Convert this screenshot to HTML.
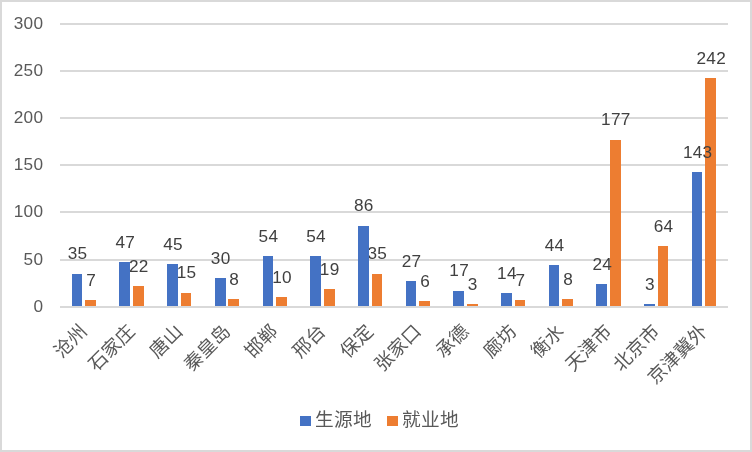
<!DOCTYPE html>
<html lang="zh"><head><meta charset="utf-8"><title>生源地 就业地</title>
<style>html,body{margin:0;padding:0;background:#fff}body{width:752px;height:452px;overflow:hidden;font-family:"Liberation Sans",sans-serif}#chart{position:relative;width:752px;height:452px;box-sizing:border-box;border:2px solid #d9d9d9;background:#fff}svg{position:absolute;left:-2px;top:-2px;display:block;will-change:transform}text{font-family:"Liberation Sans",sans-serif;font-size:17.2px;letter-spacing:.3px}.ax{fill:#595959}.dl{fill:#404040}.cj{fill:#595959}.lg{fill:#595959}.cj text{font-family:"Liberation Sans","Noto Sans CJK SC",sans-serif;font-size:18.67px;letter-spacing:0}.lg text{font-family:"Liberation Sans","Noto Sans CJK SC",sans-serif;font-size:18.67px;letter-spacing:.33px}</style></head><body><div id="chart">
<svg width="752" height="452" viewBox="0 0 752 452">
<g fill="#d9d9d9" shape-rendering="crispEdges">
<rect x="60" y="259" width="668" height="2"/>
<rect x="60" y="211" width="668" height="2"/>
<rect x="60" y="164" width="668" height="2"/>
<rect x="60" y="117" width="668" height="2"/>
<rect x="60" y="70" width="668" height="2"/>
<rect x="60" y="23" width="668" height="2"/>
</g>
<g class="ax" text-anchor="end">
<text x="43.3" y="311.7">0</text>
<text x="43.3" y="264.7">50</text>
<text x="43.3" y="216.7">100</text>
<text x="43.3" y="169.7">150</text>
<text x="43.3" y="122.7">200</text>
<text x="43.3" y="75.7">250</text>
<text x="43.3" y="28.7">300</text>
</g>
<g fill="#ed7d31" shape-rendering="crispEdges">
<rect x="85" y="300" width="11" height="6"/>
<rect x="133" y="286" width="11" height="20"/>
<rect x="181" y="293" width="10" height="13"/>
<rect x="228" y="299" width="11" height="7"/>
<rect x="276" y="297" width="11" height="9"/>
<rect x="324" y="289" width="11" height="17"/>
<rect x="372" y="274" width="10" height="32"/>
<rect x="419" y="301" width="11" height="5"/>
<rect x="467" y="304" width="11" height="2"/>
<rect x="515" y="300" width="10" height="6"/>
<rect x="562" y="299" width="11" height="7"/>
<rect x="610" y="140" width="11" height="166"/>
<rect x="658" y="246" width="10" height="60"/>
<rect x="705" y="78" width="11" height="228"/>
</g>
<g class="dl" text-anchor="middle">
<text x="91.19" y="286">7</text>
<text x="138.89" y="272">22</text>
<text x="186.59" y="278">15</text>
<text x="234.29" y="285">8</text>
<text x="281.99" y="283">10</text>
<text x="329.69" y="275">19</text>
<text x="377.39" y="259">35</text>
<text x="425.09" y="287">6</text>
<text x="472.79" y="290">3</text>
<text x="520.49" y="286">7</text>
<text x="568.19" y="285">8</text>
<text x="615.89" y="125">177</text>
<text x="663.59" y="232">64</text>
<text x="711.29" y="64">242</text>
</g>
<g fill="#4472c4" shape-rendering="crispEdges">
<rect x="72" y="274" width="10" height="32"/>
<rect x="119" y="262" width="11" height="44"/>
<rect x="167" y="264" width="11" height="42"/>
<rect x="215" y="278" width="11" height="28"/>
<rect x="263" y="256" width="10" height="50"/>
<rect x="310" y="256" width="11" height="50"/>
<rect x="358" y="226" width="11" height="80"/>
<rect x="406" y="281" width="10" height="25"/>
<rect x="453" y="291" width="11" height="15"/>
<rect x="501" y="293" width="11" height="13"/>
<rect x="549" y="265" width="10" height="41"/>
<rect x="596" y="284" width="11" height="22"/>
<rect x="644" y="304" width="11" height="2"/>
<rect x="692" y="172" width="10" height="134"/>
</g>
<rect x="60" y="306" width="668" height="2" fill="#d9d9d9" shape-rendering="crispEdges"/>
<g class="dl" text-anchor="middle">
<text x="77.61" y="259">35</text>
<text x="125.31" y="248">47</text>
<text x="173.01" y="250">45</text>
<text x="220.71" y="264">30</text>
<text x="268.41" y="242">54</text>
<text x="316.11" y="242">54</text>
<text x="363.81" y="211">86</text>
<text x="411.51" y="267">27</text>
<text x="459.21" y="276">17</text>
<text x="506.91" y="279">14</text>
<text x="554.61" y="251">44</text>
<text x="602.31" y="270">24</text>
<text x="650.01" y="290">3</text>
<text x="697.71" y="158">143</text>
</g>
<g class="cj" transform="translate(88.25 332.6) rotate(-45)"><title>沧州</title><text x="0" y="0" text-anchor="end">沧州</text></g>
<g class="cj" transform="translate(135.95 332.6) rotate(-45)"><title>石家庄</title><text x="0" y="0" text-anchor="end">石家庄</text></g>
<g class="cj" transform="translate(183.65 332.6) rotate(-45)"><title>唐山</title><text x="0" y="0" text-anchor="end">唐山</text></g>
<g class="cj" transform="translate(231.35 332.6) rotate(-45)"><title>秦皇岛</title><text x="0" y="0" text-anchor="end">秦皇岛</text></g>
<g class="cj" transform="translate(279.05 332.6) rotate(-45)"><title>邯郸</title><text x="0" y="0" text-anchor="end">邯郸</text></g>
<g class="cj" transform="translate(326.75 332.6) rotate(-45)"><title>邢台</title><text x="0" y="0" text-anchor="end">邢台</text></g>
<g class="cj" transform="translate(374.45 332.6) rotate(-45)"><title>保定</title><text x="0" y="0" text-anchor="end">保定</text></g>
<g class="cj" transform="translate(422.15 332.6) rotate(-45)"><title>张家口</title><text x="0" y="0" text-anchor="end">张家口</text></g>
<g class="cj" transform="translate(469.85 332.6) rotate(-45)"><title>承德</title><text x="0" y="0" text-anchor="end">承德</text></g>
<g class="cj" transform="translate(517.55 332.6) rotate(-45)"><title>廊坊</title><text x="0" y="0" text-anchor="end">廊坊</text></g>
<g class="cj" transform="translate(565.25 332.6) rotate(-45)"><title>衡水</title><text x="0" y="0" text-anchor="end">衡水</text></g>
<g class="cj" transform="translate(612.95 332.6) rotate(-45)"><title>天津市</title><text x="0" y="0" text-anchor="end">天津市</text></g>
<g class="cj" transform="translate(660.65 332.6) rotate(-45)"><title>北京市</title><text x="0" y="0" text-anchor="end">北京市</text></g>
<g class="cj" transform="translate(708.35 332.6) rotate(-45)"><title>京津冀外</title><text x="0" y="0" text-anchor="end">京津冀外</text></g>
<rect x="300" y="416" width="11" height="10" fill="#4472c4" shape-rendering="crispEdges"/>
<g class="lg" transform="translate(315.1 426.4)"><title>生源地</title><text x="0" y="0">生源地</text></g>
<rect x="387" y="416" width="11" height="10" fill="#ed7d31" shape-rendering="crispEdges"/>
<g class="lg" transform="translate(402.1 426.4)"><title>就业地</title><text x="0" y="0">就业地</text></g>
</svg></div></body></html>
